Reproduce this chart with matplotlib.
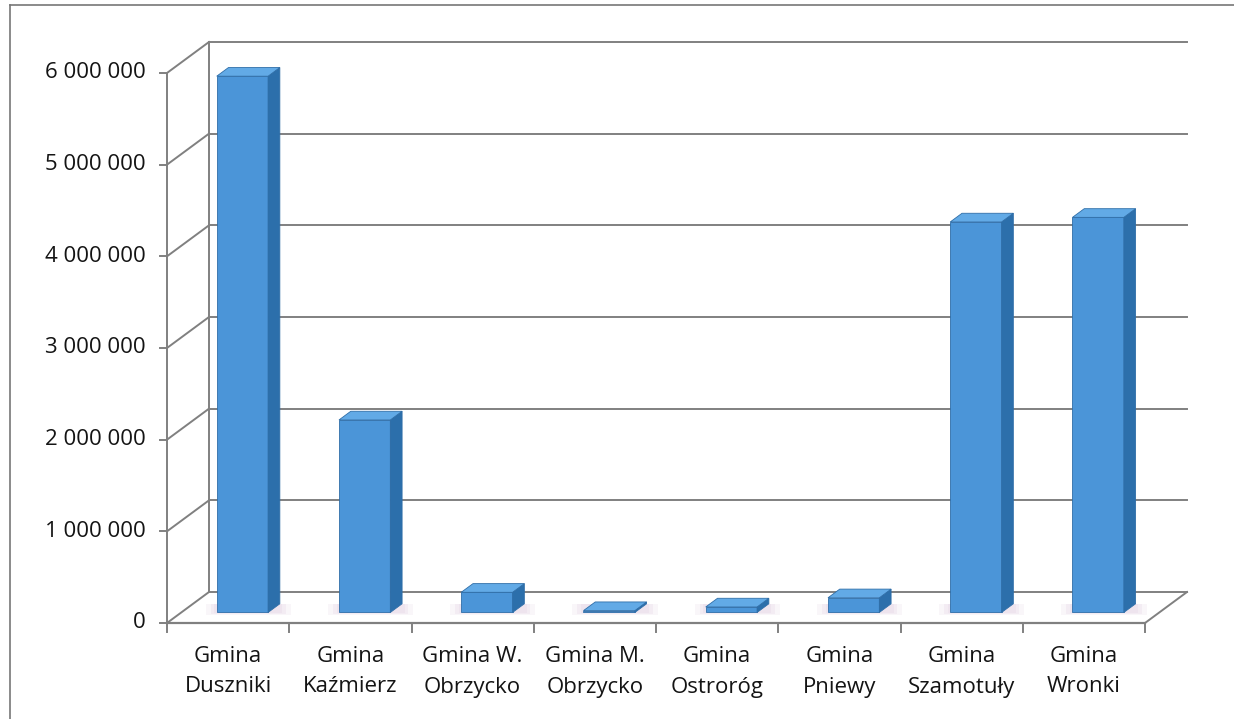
import matplotlib
matplotlib.use("Agg")
import matplotlib.pyplot as plt
from matplotlib.patches import Polygon
from matplotlib.lines import Line2D

# data
categories = ["Gmina\nDuszniki", "Gmina\nKaźmierz", "Gmina W.\nObrzycko", "Gmina M.\nObrzycko",
              "Gmina\nOstroróg", "Gmina\nPniewy", "Gmina\nSzamotuły", "Gmina\nWronki"]
values = [5850000, 2100000, 220000, 20000, 60000, 160000, 4260000, 4310000]
y_ticks = [0, 1000000, 2000000, 3000000, 4000000, 5000000, 6000000]

# pixel geometry of the fake 3d box
W, H = 1234, 719
x0_px, y0_px = 167, 623          # front-left corner of the floor
cat_px = 122.25                  # width of one category
unit_px = 91.67 / 1e6            # pixels per value unit
depth_px = (42, 31)              # back wall offset (right, up)

DX = depth_px[0] / cat_px
DY = depth_px[1] / unit_px
n = len(categories)
ymax = y_ticks[-1]

fig = plt.figure(figsize=(W / 100, H / 100), dpi=100)
ax = fig.add_axes([0, 0, 1, 1])
ax.set_xlim(-x0_px / cat_px, (W - x0_px) / cat_px)
ax.set_ylim(-(H - y0_px) / unit_px, y0_px / unit_px)
ax.axis("off")

grid_c = "#808080"
font = ["Open Sans", "DejaVu Sans"]
txt_c = "#141414"
fs = 16

# walls / gridlines
for v in y_ticks:
    ax.plot([0, DX], [v, v + DY], color=grid_c, lw=1.4, zorder=1)
    ax.plot([DX, n + DX], [v + DY, v + DY], color=grid_c, lw=1.4, zorder=1)
    ax.plot([-7 / cat_px, 0], [v, v], color=grid_c, lw=1.4, zorder=1)
    ax.text(-21 / cat_px, v, f"{v:,}".replace(",", " "), ha="right", va="center",
            fontsize=fs, family=font, color=txt_c)
ax.plot([DX, DX], [DY, ymax + DY], color=grid_c, lw=1.4, zorder=1)
ax.plot([0, 0], [0, ymax], color=grid_c, lw=1.4, zorder=1)

# floor
ax.plot([0, n], [0, 0], color=grid_c, lw=1.6, zorder=1)
ax.plot([n, n + DX], [0, DY], color=grid_c, lw=1.4, zorder=1)
for i in range(n + 1):
    ax.plot([i, i], [0, -9 / unit_px], color=grid_c, lw=1.4, zorder=1)

# bars
d0, d1 = 0.34, 0.62      # depth range of a bar (fraction of floor depth)
bw = 0.42                # bar width in categories
front_c, side_c, top_c, edge_c = "#4b95d8", "#2c6fab", "#62aae6", "#2f6ea8"
for i, v in enumerate(values):
    xl = i + 0.5 - bw / 2 + d0 * DX
    xr = xl + bw
    yb = d0 * DY
    ox, oy = (d1 - d0) * DX, (d1 - d0) * DY
    # soft shadow on the floor
    for k, a in zip([0.09, 0.05, 0.02], [0.25, 0.35, 0.45]):
        ax.add_patch(Polygon([(xl - k, yb - 0.3 * k * 1e6), (xr + ox + k, yb - 0.3 * k * 1e6),
                              (xr + ox + k, yb + oy), (xl - k, yb + oy)],
                             closed=True, color="#eadcea", alpha=a, lw=0, zorder=2))
    ax.bar(i + 0.5 + d0 * DX, v, width=bw, bottom=yb, color=front_c,
           edgecolor=edge_c, lw=0.6, zorder=3)
    ax.add_patch(Polygon([(xr, yb), (xr + ox, yb + oy), (xr + ox, yb + oy + v), (xr, yb + v)],
                         closed=True, facecolor=side_c, edgecolor=edge_c, lw=0.6, zorder=3))
    ax.add_patch(Polygon([(xl, yb + v), (xr, yb + v), (xr + ox, yb + oy + v), (xl + ox, yb + oy + v)],
                         closed=True, facecolor=top_c, edgecolor=edge_c, lw=0.6, zorder=3))

# category labels, two lines each
for i, lab in enumerate(categories):
    l1, l2 = lab.split("\n")
    ax.text(i + 0.5, -34 / unit_px, l1, ha="center", va="center", fontsize=fs,
            family=font, color=txt_c)
    ax.text(i + 0.5, -64 / unit_px, l2, ha="center", va="center", fontsize=fs,
            family=font, color=txt_c)

# chart frame (left and top edges visible in the scan)
fig.add_artist(Line2D([10 / W, 10 / W], [0, 1 - 5 / H], color="#777777", lw=1.2))
fig.add_artist(Line2D([10 / W, 1], [1 - 5 / H, 1 - 5 / H], color="#777777", lw=1.2))

fig.savefig("out.png", dpi=100)
